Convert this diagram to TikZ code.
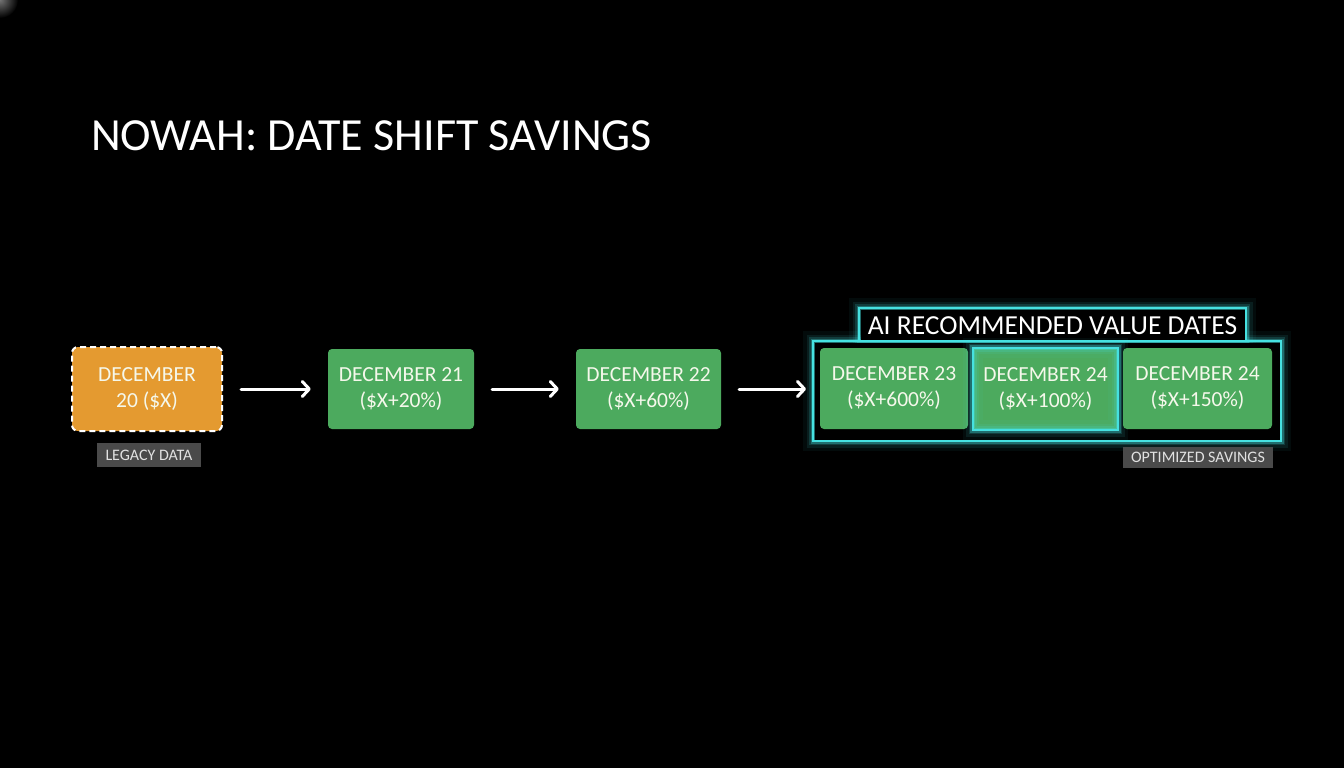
\documentclass[tikz,border=0pt]{standalone}
\usepackage{fontspec}
\setmainfont{Carlito}
\usetikzlibrary{arrows.meta,shadings}
\definecolor{bgc}{RGB}{0,0,0}
\definecolor{orangec}{RGB}{228,154,48}
\definecolor{greenc}{RGB}{76,170,94}
\definecolor{cyanc}{RGB}{70,225,225}
\definecolor{tagc}{RGB}{74,74,74}
\definecolor{tagtext}{RGB}{225,225,225}
\definecolor{boxtext}{RGB}{245,248,235}
\tikzset{
  datebox/.style={fill=greenc, rounded corners=4pt, text=boxtext, align=center,
    font=\fontsize{21.5}{26}\selectfont, inner sep=0pt},
  legacybox/.style={fill=orangec, rounded corners=6pt, draw=white, dashed, line width=2pt,
    dash pattern=on 6pt off 4pt, text=boxtext, align=center,
    font=\fontsize{21.5}{26}\selectfont, inner sep=0pt},
  tagbox/.style={fill=tagc, text=tagtext, font=\fontsize{16}{18}\selectfont, inner sep=0pt},
  flowarrow/.style={draw=white, line width=3pt, line cap=round,
    -{Straight Barb[length=7pt,width=15pt,line cap=round,line join=round]},
    shorten <=18pt, shorten >=17pt},
  glowline/.style={draw=cyanc, line width=2.5pt},
}
\newcommand{\glowrect}[2]{%
  \draw[cyanc, line width=20pt, opacity=0.05] #1 rectangle #2;
  \draw[cyanc, line width=13pt, opacity=0.09] #1 rectangle #2;
  \draw[cyanc, line width=8pt, opacity=0.16] #1 rectangle #2;
  \draw[cyanc, line width=5pt, opacity=0.3] #1 rectangle #2;
  \draw[glowline] #1 rectangle #2;}
\begin{document}
\begin{tikzpicture}[x=1pt,y=-1pt]
\fill[bgc] (0,0) rectangle (1344,768);
\useasboundingbox (0,0) rectangle (1344,768);
\begin{scope}
\clip (0,0) rectangle (30,20);
\shade[inner color=white!45!black, outer color=black] (0,0) circle (18pt);
\end{scope}

\node[anchor=base west, text=white, font=\fontsize{46}{50}\selectfont, inner sep=0pt] (title) at (91,150) {NOWAH: DATE SHIFT SAVINGS};

% legacy
\node[legacybox, minimum width=150pt, minimum height=84pt, text depth=2pt] (d20) at (147,389) {DECEMBER\\20 (\$X)};
\node[tagbox, minimum width=104pt, minimum height=24pt] (legacy) at (149,455) {LEGACY DATA};

\node[datebox, minimum width=146pt, minimum height=80pt] (d21) at (401,389) {DECEMBER 21\\(\$X+20\%)};
\node[datebox, minimum width=145pt, minimum height=80pt] (d22) at (648.5,389) {DECEMBER 22\\(\$X+60\%)};

% glow frames
\coordinate (outerNW) at (813,341);
\coordinate (outerSE) at (1281,441);
\coordinate (labNW) at (859,308);
\coordinate (labSE) at (1246,341);
\glowrect{(labNW)}{(labSE)}
\glowrect{(outerNW)}{(outerSE)}
\fill[black] ([shift={(1.5pt,-1.5pt)}]labNW) rectangle ([shift={(-1.5pt,1.5pt)}]labSE);
\fill[black] ([shift={(1.5pt,-1.5pt)}]outerNW) rectangle ([shift={(-1.5pt,1.5pt)}]outerSE);
\draw[glowline] (labNW) rectangle (labSE);
\draw[glowline] (outerNW) rectangle (outerSE);
\node[text=white, font=\fontsize{27.5}{30}\selectfont, inner sep=0pt] (ailabel) at (1052.5,326) {AI RECOMMENDED VALUE DATES};

\node[datebox, minimum width=148pt, minimum height=81pt] (d23) at (894,388.5) {DECEMBER 23\\(\$X+600\%)};
\node[datebox, minimum width=145pt, minimum height=82pt] (d24a) at (1045.5,389) {DECEMBER 24\\(\$X+100\%)};
\glowrect{(d24a.north west)}{(d24a.south east)}
\node[datebox, minimum width=149pt, minimum height=81pt] (d24b) at (1197.5,388.5) {DECEMBER 24\\(\$X+150\%)};

\node[tagbox, minimum width=150pt, minimum height=21pt] (optim) at (1198,457.5) {OPTIMIZED SAVINGS};

\draw[flowarrow] (d20) -- (d21);
\draw[flowarrow] (d21) -- (d22);
\draw[flowarrow, shorten >=7pt] (d22) -- (outerNW |- d22);
\end{tikzpicture}
\end{document}
